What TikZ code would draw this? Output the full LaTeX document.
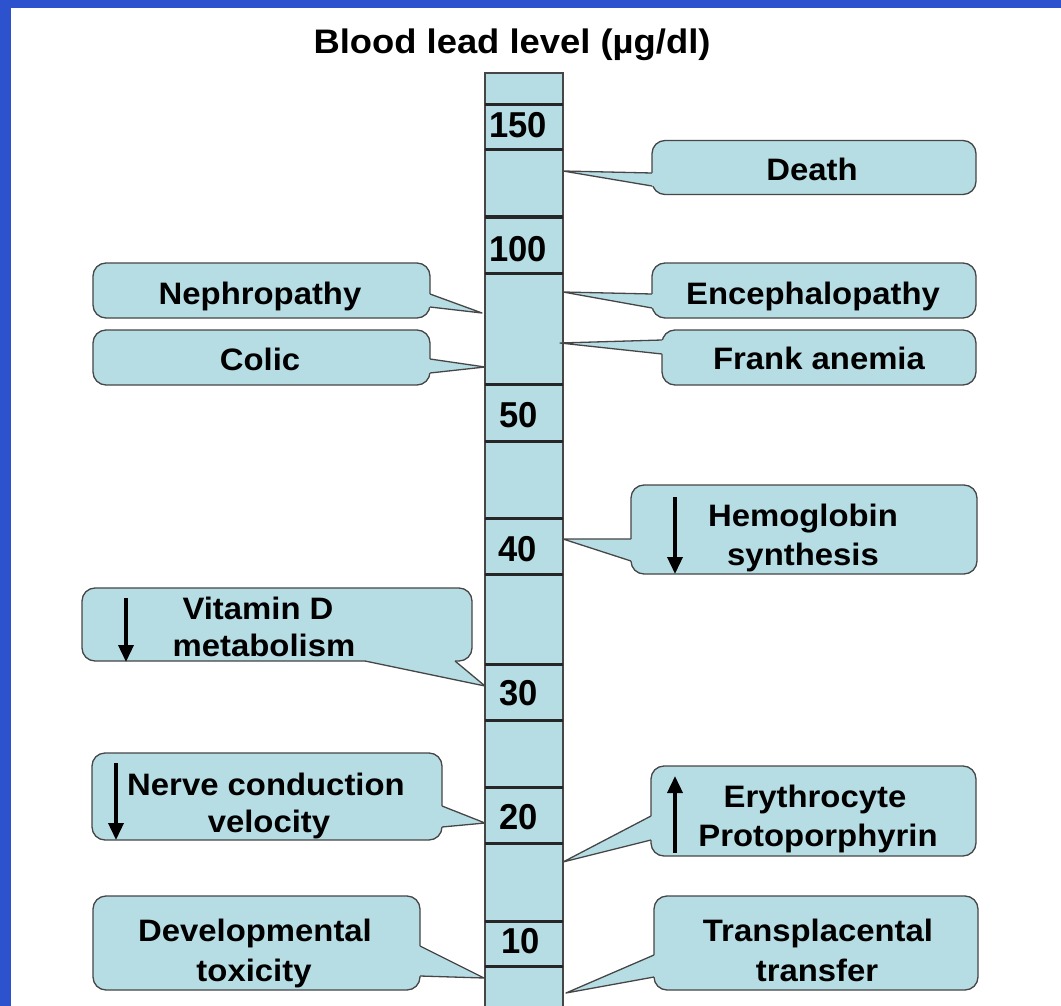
\documentclass[tikz,border=0pt]{standalone}
\usepackage{fontspec}
\setmainfont{Liberation Sans}
\usetikzlibrary{calc,arrows.meta}
\definecolor{bgblue}{RGB}{44,82,206}
\definecolor{cfillc}{RGB}{183,221,228}
\definecolor{clinec}{RGB}{70,70,70}
\tikzset{
  callbox/.style={draw=clinec, line width=1.3pt, fill=cfillc, rounded corners=13pt, inner sep=0pt, outer sep=0pt},
  ctext/.style={font=\fontsize{31}{36}\selectfont\bfseries, inner sep=0pt, anchor=base},
  numtext/.style={font=\fontsize{36}{36}\selectfont\bfseries, inner sep=0pt, anchor=base},
  titletext/.style={font=\fontsize{34}{36}\selectfont\bfseries, inner sep=0pt, anchor=base},
  tickline/.style={line width=3pt, black!85},
  colline/.style={draw=clinec, line width=1.5pt},
  bigarrow/.style={line width=3.5pt, -{Triangle[width=15pt,length=17pt]}},
  cline/.style={draw=clinec, line width=1.3pt, line join=round},
}
\newcommand\wt[1]{\scalebox{1.06}[1]{#1}}
\newcommand\cptr[4]{%
  \fill[cfillc] (#1) -- (#2) -- ($(#2)+(#4)$) -- ($(#3)+(#4)$) -- (#3) -- cycle;
  \draw[cline] (#2) -- (#1) -- (#3);
}
\begin{document}
\begin{tikzpicture}[x=1pt,y=-1pt]
\useasboundingbox (0,0) rectangle (1061,1006);
\fill[white] (0,0) rectangle (1061,1006);
\fill[bgblue] (0,0) rectangle (11,1006);
\fill[bgblue] (0,0) rectangle (1061,8);

\node[titletext] (title) at (512,54) {\scalebox{1.07}[1]{Blood lead level (µg/dl)}};

% column
\fill[cfillc] (485,73) rectangle (563,1006);
\draw[colline] (485,1006) -- (485,73) -- (563,73) -- (563,1006);
\foreach \y in {105,150,217,273,384,441,518,574,664,720,787,843,921,966}
  \draw[tickline] (485,\y) -- (563,\y);

\node[numtext] (n150) at (518,138) {\scalebox{0.96}[1]{150}};
\node[numtext] (n100) at (518,261) {\scalebox{0.96}[1]{100}};
\node[numtext] (n50) at (519,427) {\scalebox{0.96}[1]{50}};
\node[numtext] (n40) at (518,561) {\scalebox{0.96}[1]{40}};
\node[numtext] (n30) at (519,705) {\scalebox{0.96}[1]{30}};
\node[numtext] (n20) at (519,829) {\scalebox{0.96}[1]{20}};
\node[numtext] (n10) at (521,953) {\scalebox{0.96}[1]{10}};

% tips on the column
\coordinate (tDeath) at (563,171);
\coordinate (tEnc) at (563,292);
\coordinate (tFrank) at (560,343);
\coordinate (tNeph) at (482,313);
\coordinate (tColic) at (485,367);
\coordinate (tHemo) at (563,539);
\coordinate (tVitD) at (485,686);
\coordinate (tNerve) at (485,823);
\coordinate (tEry) at (563,862);
\coordinate (tDev) at (484,978);
\coordinate (tTrans) at (566,993);

% right callouts
\node[callbox, minimum width=324pt, minimum height=54pt] (bDeath) at (814,167.5) {};
\cptr{tDeath}{652,173}{652,186}{4,0}
\node[ctext] (xDeath) at (812,181) {\wt{Death}};

\node[callbox, minimum width=324pt, minimum height=55pt] (bEnc) at (814,290.5) {};
\cptr{tEnc}{652,294}{652,308}{4,0}
\node[ctext] (xEnc) at (813,304) {\wt{Encephalopathy}};

\node[callbox, minimum width=314pt, minimum height=55pt] (bFrank) at (819,357.5) {};
\cptr{tFrank}{662,340}{662,354}{4,0}
\node[ctext] (xFrank) at (819,369) {\wt{Frank anemia}};

\node[callbox, minimum width=346pt, minimum height=89pt] (bHemo) at (804,529.5) {};
\cptr{tHemo}{631,539}{631,561}{4,0}
\node[ctext] (xHemo1) at (803,526) {\wt{Hemoglobin}};
\node[ctext] (xHemo2) at (803,565) {\wt{synthesis}};
\draw[bigarrow] (675,497) -- (675,574);

\node[callbox, minimum width=325pt, minimum height=90pt] (bEry) at (813.5,811) {};
\cptr{tEry}{651,816}{651,840}{4,0}
\node[ctext] (xEry1) at (815,807) {\wt{Erythrocyte}};
\node[ctext] (xEry2) at (818,846) {\wt{Protoporphyrin}};
\draw[bigarrow] (675,853) -- (675,776);

\node[callbox, minimum width=324pt, minimum height=94pt] (bTrans) at (816,943) {};
\cptr{tTrans}{654,955}{654,977}{4,0}
\node[ctext] (xTrans1) at (818,941) {\wt{Transplacental}};
\node[ctext] (xTrans2) at (817,981) {\wt{transfer}};

% left callouts
\node[callbox, minimum width=337pt, minimum height=55pt] (bNeph) at (261.5,290.5) {};
\cptr{tNeph}{430,294}{430,307}{-4,0}
\node[ctext] (xNeph) at (260,304) {\wt{Nephropathy}};

\node[callbox, minimum width=337pt, minimum height=55pt] (bColic) at (261.5,357.5) {};
\cptr{tColic}{430,359}{430,373}{-4,0}
\node[ctext] (xColic) at (260,370) {\wt{Colic}};

\node[callbox, minimum width=390pt, minimum height=73pt] (bVitD) at (277,624.5) {};
\cptr{tVitD}{365,661}{455,661}{0,-4}
\node[ctext] (xVitD1) at (258,619) {\wt{Vitamin D}};
\node[ctext] (xVitD2) at (264,656) {\wt{metabolism}};
\draw[bigarrow] (126,598) -- (126,662);

\node[callbox, minimum width=350pt, minimum height=87pt] (bNerve) at (267,796.5) {};
\cptr{tNerve}{442,806}{442,827}{-4,0}
\node[ctext] (xNerve1) at (266,795) {\wt{Nerve conduction}};
\node[ctext] (xNerve2) at (269,832) {\wt{velocity}};
\draw[bigarrow] (116,763) -- (116,840);

\node[callbox, minimum width=327pt, minimum height=94pt] (bDev) at (256.5,943) {};
\cptr{tDev}{420,946}{420,976}{-4,0}
\node[ctext] (xDev1) at (255,941) {\wt{Developmental}};
\node[ctext] (xDev2) at (254,981) {\wt{toxicity}};
\end{tikzpicture}
\end{document}
